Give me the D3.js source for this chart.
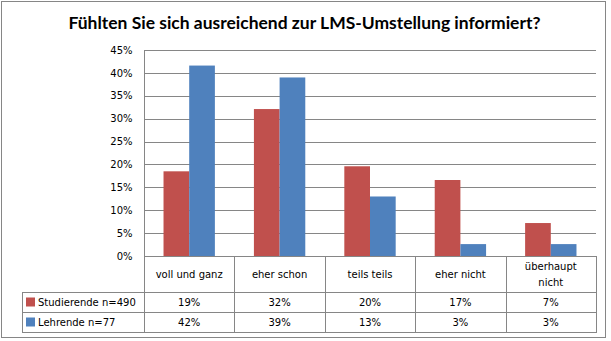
<!DOCTYPE html>
<html><head><meta charset="utf-8">
<script src="https://cdn.jsdelivr.net/npm/d3@7"></script>
<style>body{margin:0;background:#fff}svg{display:block}</style>
</head><body><svg id="c" width="611" height="341"></svg>
<script>
const title = "Fühlten Sie sich ausreichend zur LMS-Umstellung informiert?";
const categories = ["voll und ganz", "eher schon", "teils teils", "eher nicht", "überhaupt nicht"];
const seriesNames = ["Studierende n=490", "Lehrende n=77"];
const studierende = [0.185, 0.321, 0.196, 0.166, 0.072];
const lehrende = [0.416, 0.390, 0.130, 0.026, 0.026];
const yTicks = [0, 0.05, 0.10, 0.15, 0.20, 0.25, 0.30, 0.35, 0.40, 0.45];
const colors = ["#C0504D", "#4F81BD"];

const series = [studierende, lehrende];
const svg = d3.select("#c");
const gray = "#868686";
const font = "DejaVu Sans";

const L = 144, R = 596, T = 50, B = 256;
const x0 = d3.scaleBand().domain(categories).range([L, R]).padding(0);
const x1 = d3.scaleBand().domain(seriesNames).range([0, x0.bandwidth()]).paddingInner(0).paddingOuter(0.76);
const y = d3.scaleLinear().domain([0, 0.45]).range([B, T]);

// outer frame
svg.append("rect").attr("x", 1.5).attr("y", 1.5).attr("width", 604).attr("height", 336)
  .attr("fill", "#fff").attr("stroke", gray).attr("stroke-width", 1);

// title
svg.append("text").attr("x", 304.5).attr("y", 29).attr("text-anchor", "middle")
  .attr("font-family", "Lato").attr("font-weight", "bold").attr("font-size", 17)
  .attr("textLength", 472).attr("lengthAdjust", "spacingAndGlyphs")
  .attr("fill", "#000").text(title);

// gridlines
svg.append("g").selectAll("line").data(yTicks.filter(d => d > 0)).join("line")
  .attr("x1", L).attr("x2", R).attr("y1", d => Math.round(y(d)) + 0.5).attr("y2", d => Math.round(y(d)) + 0.5)
  .attr("stroke", gray).attr("stroke-width", 1);

// y axis
const yAxis = d3.axisLeft(y).tickValues(yTicks).tickFormat(d3.format(".0%")).tickSize(0).tickPadding(12);
const ga = svg.append("g").attr("transform", `translate(${L + 0.5},0)`).call(yAxis);
ga.select(".domain").remove();
ga.selectAll("text").attr("font-family", font).attr("font-size", 10).attr("fill", "#000");
svg.append("line").attr("x1", L + 0.5).attr("x2", L + 0.5).attr("y1", T).attr("y2", 333).attr("stroke", gray);

// bars
const groups = svg.append("g").selectAll("g").data(categories).join("g")
  .attr("transform", d => `translate(${x0(d)},0)`);
groups.selectAll("rect").data((c, i) => series.map((s, j) => ({ name: seriesNames[j], v: s[i], j })))
  .join("rect")
  .attr("x", d => x1(d.name)).attr("width", x1.bandwidth())
  .attr("y", d => y(d.v)).attr("height", d => B - y(d.v))
  .attr("fill", d => colors[d.j]);

// table
const rowTop = [B, 292, 312];
const rowBot = 332;
// horizontal lines
svg.append("line").attr("x1", L).attr("x2", R).attr("y1", B + 0.5).attr("y2", B + 0.5).attr("stroke", gray);
[292, 312, 332].forEach(yy => {
  svg.append("line").attr("x1", 22).attr("x2", R + 0.5).attr("y1", yy + 0.5).attr("y2", yy + 0.5).attr("stroke", gray);
});
// vertical lines
categories.forEach(c => {
  const xx = Math.round(x0(c) + x0.bandwidth()) + 0.5;
  svg.append("line").attr("x1", xx).attr("x2", xx).attr("y1", B).attr("y2", rowBot + 1).attr("stroke", gray);
});
svg.append("line").attr("x1", 22.5).attr("x2", 22.5).attr("y1", 292).attr("y2", rowBot + 1).attr("stroke", gray);

// category labels
const catText = svg.append("g").selectAll("text").data(categories).join("text")
  .attr("x", d => x0(d) + x0.bandwidth() / 2)
  .attr("text-anchor", "middle").attr("font-family", font).attr("font-size", 10).attr("fill", "#000");
catText.each(function (d) {
  const words = d === "überhaupt nicht" ? ["überhaupt", "nicht"] : [d];
  const t = d3.select(this);
  if (words.length === 1) {
    t.append("tspan").attr("y", 278).text(words[0]);
  } else {
    t.append("tspan").attr("x", x0(d) + x0.bandwidth() / 2).attr("y", 270).text(words[0]);
    t.append("tspan").attr("x", x0(d) + x0.bandwidth() / 2).attr("y", 286).text(words[1]);
  }
});

// legend rows and values
const rowY = [302, 322];
seriesNames.forEach((name, j) => {
  svg.append("rect").attr("x", 26).attr("y", rowY[j] - 4.5).attr("width", 9).attr("height", 9).attr("fill", colors[j]);
  svg.append("text").attr("x", 38).attr("y", rowY[j] + 4).attr("font-family", font).attr("font-size", 10)
    .attr("fill", "#000").text(name);
  svg.append("g").selectAll("text").data(series[j]).join("text")
    .attr("x", (d, i) => x0(categories[i]) + x0.bandwidth() / 2).attr("y", rowY[j] + 4)
    .attr("text-anchor", "middle").attr("font-family", font).attr("font-size", 10).attr("fill", "#000")
    .text(d => Math.round(d * 100) + "%");
});
</script></body></html>
